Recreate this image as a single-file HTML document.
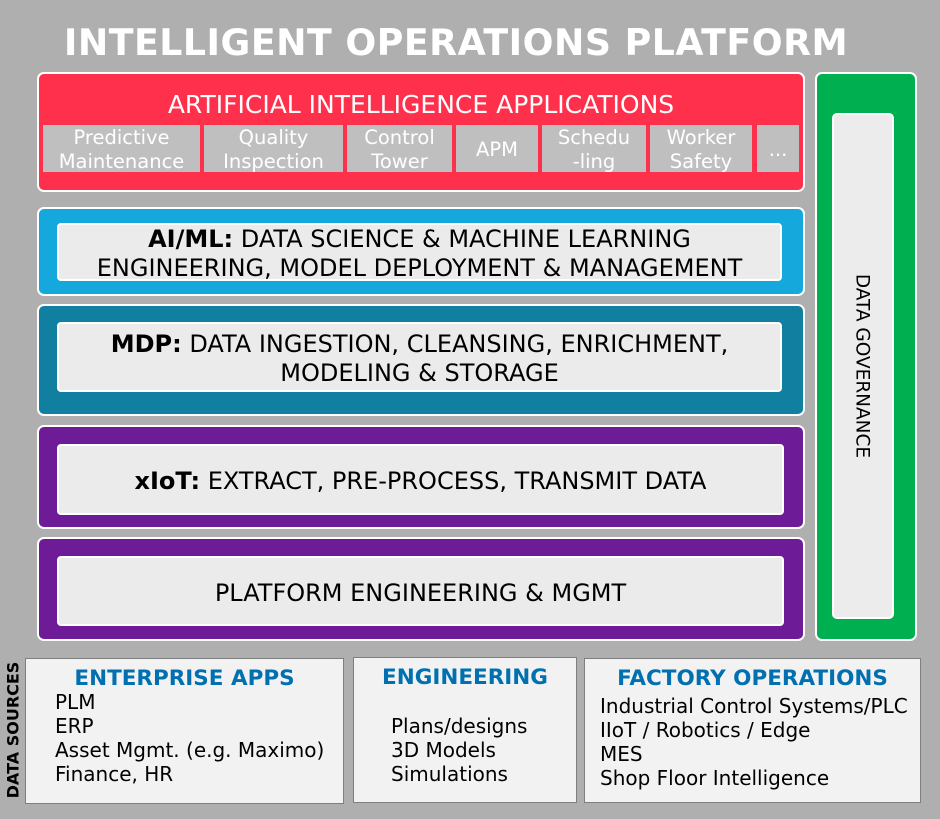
<!DOCTYPE html>
<html><head><meta charset="utf-8"><style>
*{margin:0;padding:0;box-sizing:border-box}
body{width:940px;height:819px;background:#afafaf;position:relative;overflow:hidden;font-family:"DejaVu Sans","Liberation Sans",sans-serif}
.a{position:absolute}
.box{position:absolute;border:2px solid #fff;border-radius:7px}
.inner{position:absolute;background:#ebebeb;border:2px solid #fff;border-radius:4px;display:flex;align-items:center;justify-content:center;text-align:center;font-size:24px;line-height:29px;color:#000;white-space:nowrap;padding-top:4px}
.tile{position:absolute;top:125px;height:47px;background:#bfbfbf;color:#fff;font-size:19.5px;line-height:24px;text-align:center;display:flex;align-items:center;justify-content:center;padding-top:2px}
.src{position:absolute;background:#f2f2f2;border:1.5px solid #7f7f7f}
.h{position:absolute;color:#0070b0;font-weight:bold;font-size:21.5px}
.l{position:absolute;font-size:20px;line-height:24px;color:#000;white-space:nowrap}
</style></head><body>
<div class="a" style="left:0;width:912px;top:21px;text-align:center;color:#fff;font-weight:bold;font-size:36.3px;letter-spacing:0.5px;white-space:nowrap">INTELLIGENT OPERATIONS PLATFORM</div>

<div class="box" style="left:37px;top:72px;width:768px;height:120px;background:#ff304c"></div>
<div class="a" style="left:37px;width:768px;top:90px;text-align:center;color:#fff;font-size:25px;white-space:nowrap">ARTIFICIAL INTELLIGENCE APPLICATIONS</div>
<div class="tile" style="left:43px;width:157px">Predictive<br>Maintenance</div>
<div class="tile" style="left:204px;width:139px">Quality<br>Inspection</div>
<div class="tile" style="left:347px;width:105px">Control<br>Tower</div>
<div class="tile" style="left:456px;width:82px">APM</div>
<div class="tile" style="left:542px;width:104px">Schedu<br>-ling</div>
<div class="tile" style="left:650px;width:102px">Worker<br>Safety</div>
<div class="tile" style="left:757px;width:42px">...</div>

<div class="box" style="left:37px;top:207px;width:768px;height:89px;background:#14a8dc"></div>
<div class="inner" style="left:57px;top:223px;width:725px;height:58px"><span><b>AI/ML:</b> DATA SCIENCE &amp; MACHINE LEARNING<br>ENGINEERING, MODEL DEPLOYMENT &amp; MANAGEMENT</span></div>

<div class="box" style="left:37px;top:304px;width:768px;height:112px;background:#1180a0"></div>
<div class="inner" style="left:57px;top:322px;width:725px;height:70px"><span><b>MDP:</b> DATA INGESTION, CLEANSING, ENRICHMENT,<br>MODELING &amp; STORAGE</span></div>

<div class="box" style="left:37px;top:425px;width:768px;height:104px;background:#6d1b97"></div>
<div class="inner" style="left:57px;top:444px;width:727px;height:71px"><span><b>xIoT:</b> EXTRACT, PRE-PROCESS, TRANSMIT DATA</span></div>

<div class="box" style="left:37px;top:537px;width:768px;height:104px;background:#6d1b97"></div>
<div class="inner" style="left:57px;top:556px;width:727px;height:70px"><span>PLATFORM ENGINEERING &amp; MGMT</span></div>

<div class="box" style="left:815px;top:72px;width:102px;height:569px;background:#00af50"></div>
<div class="a" style="left:832px;top:113px;width:62px;height:506px;background:#ececec;border:2px solid #fff;border-radius:5px"></div>
<div class="a" style="left:862px;top:366px;width:0;height:0"><div style="position:absolute;transform:translate(-50%,-50%) rotate(90deg);white-space:nowrap;font-size:18.5px;color:#000">DATA GOVERNANCE</div></div>

<div class="a" style="left:13px;top:730px;width:0;height:0"><div style="position:absolute;transform:translate(-50%,-50%) rotate(-90deg);white-space:nowrap;font-size:16px;font-weight:bold;color:#000">DATA SOURCES</div></div>

<div class="src" style="left:25px;top:658px;width:319px;height:146px"></div>
<div class="h" style="left:25px;width:319px;text-align:center;top:666px">ENTERPRISE APPS</div>
<div class="l" style="left:55px;top:690px">PLM<br>ERP<br>Asset Mgmt. (e.g. Maximo)<br>Finance, HR</div>

<div class="src" style="left:353px;top:657px;width:224px;height:146px"></div>
<div class="h" style="left:353px;width:224px;text-align:center;top:665px">ENGINEERING</div>
<div class="l" style="left:391px;top:714px">Plans/designs<br>3D Models<br>Simulations</div>

<div class="src" style="left:584px;top:658px;width:337px;height:145px"></div>
<div class="h" style="left:584px;width:337px;text-align:center;top:666px">FACTORY OPERATIONS</div>
<div class="l" style="left:600px;top:694px">Industrial Control Systems/PLC<br>IIoT / Robotics / Edge<br>MES<br>Shop Floor Intelligence</div>
</body></html>
